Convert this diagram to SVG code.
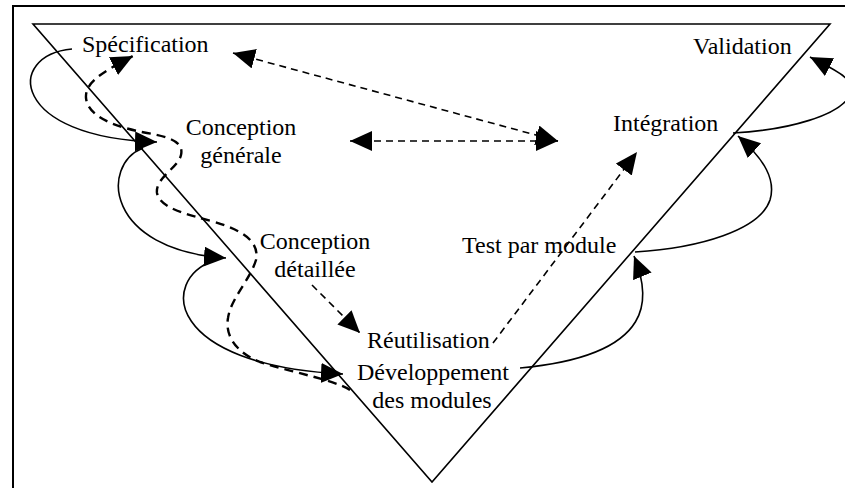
<svg xmlns="http://www.w3.org/2000/svg" width="845" height="488" viewBox="0 0 845 488">
<style>
  text { font-family: "Liberation Serif", "Times New Roman", serif; font-size: 24px; fill: #000; }
  .mid { text-anchor: middle; }
  .frame { fill: none; stroke: #000; stroke-width: 2; }
  .vee { fill: none; stroke: #000; stroke-width: 1.6; }
  .solid { fill: none; stroke: #000; stroke-width: 1.6; }
  .dash { fill: none; stroke: #000; stroke-width: 1.6; stroke-dasharray: 7 5; }
  .bigdash { fill: none; stroke: #000; stroke-width: 2.4; stroke-dasharray: 9 6; }
</style>
<defs>
  <marker id="ah" markerUnits="userSpaceOnUse" markerWidth="24" markerHeight="22" refX="22" refY="10" orient="auto-start-reverse" viewBox="0 0 24 22">
    <path d="M0,0 L22,10 L0,20 z" fill="#000" stroke="none"/>
  </marker>
</defs>
<rect width="845" height="488" fill="#fff"/>
<path class="frame" d="M13,492 V6 H848"/>
<path class="vee" d="M33,24 H830 L432,482 Z"/>

<g id="connectors">
  <!-- left descending feedback loops -->
  <path class="solid" marker-end="url(#ah)" d="M72,49 C5,55 10,138 157,142"/>
  <path class="solid" marker-end="url(#ah)" d="M143,148 C100,165 105,250 226,258"/>
  <path class="solid" marker-end="url(#ah)" d="M213,261 C160,280 165,365 343,374"/>
  <!-- right ascending loops -->
  <path class="solid" marker-end="url(#ah)" d="M520,368 C660,355 650,295 634,256"/>
  <path class="solid" marker-end="url(#ah)" d="M635,252 C700,248 760,230 770,200 C776,180 765,160 738,136"/>
  <path class="solid" marker-end="url(#ah)" d="M733,133 C790,130 840,115 850,95 C858,80 835,70 810,57"/>
  <!-- long dashed S-curve -->
  <path class="bigdash" marker-end="url(#ah)" d="M350,390 C335,380 290,372 260,362 C235,352 225,335 228,318 C231,298 250,280 256,260 C260,240 240,230 215,222 C185,214 160,208 157,193 C155,178 178,168 181,155 C184,142 170,137 147,133 C115,127 88,117 86,98 C85,84 98,74 133,56"/>
  <!-- dashed straight arrows -->
  <path class="dash" marker-start="url(#ah)" marker-end="url(#ah)" d="M233,53 L558,141"/>
  <path class="dash" marker-start="url(#ah)" marker-end="url(#ah)" d="M350,141 L558,141"/>
  <path class="dash" marker-end="url(#ah)" d="M312,285 L360,333"/>
  <path class="dash" marker-end="url(#ah)" d="M493,343 L637,152"/>
</g>

<g id="specification"><text x="82" y="52">Spécification</text></g>
<g id="conception-generale"><text class="mid" x="241" y="135">Conception</text><text class="mid" x="241" y="163">générale</text></g>
<g id="conception-detaillee"><text class="mid" x="315" y="249">Conception</text><text class="mid" x="315" y="277">détaillée</text></g>
<g id="reutilisation"><text x="367" y="348">Réutilisation</text></g>
<g id="developpement"><text class="mid" x="433" y="380">Développement</text><text class="mid" x="432" y="408">des modules</text></g>
<g id="test-module"><text x="462" y="253">Test par module</text></g>
<g id="integration"><text x="613" y="131">Intégration</text></g>
<g id="validation"><text x="693" y="54">Validation</text></g>
</svg>
